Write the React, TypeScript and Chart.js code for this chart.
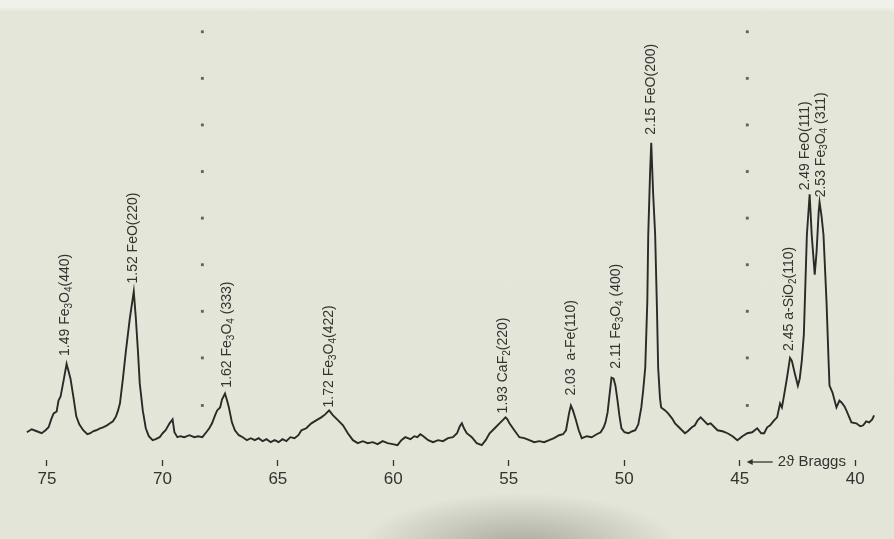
import React, { useEffect, useRef } from "react";
import { Chart, registerables } from "chart.js";

Chart.register(...registerables);

const twoTheta = [
  75.87, 75.66, 75.44, 75.23, 75.06, 74.93, 74.80, 74.71, 74.58, 74.50, 74.41, 74.28, 74.15, 74.07, 73.98, 73.85,
  73.73, 73.60, 73.43, 73.25, 73.12, 73.00, 72.87, 72.70, 72.57, 72.40, 72.27, 72.14, 72.01, 71.92, 71.84, 71.71,
  71.58, 71.41, 71.24, 71.15, 71.06, 70.98, 70.85, 70.72, 70.59, 70.42, 70.29, 70.12, 69.99, 69.86, 69.69, 69.56,
  69.48, 69.35, 69.22, 69.05, 68.83, 68.62, 68.45, 68.27, 68.10, 67.97, 67.85, 67.72, 67.63, 67.50, 67.42, 67.29,
  67.20, 67.12, 66.99, 66.86, 66.69, 66.52, 66.34, 66.17, 66.00, 65.83, 65.66, 65.49, 65.31, 65.14, 64.97, 64.80,
  64.63, 64.46, 64.28, 64.11, 63.98, 63.77, 63.55, 63.34, 63.12, 62.95, 62.78, 62.61, 62.39, 62.18, 61.97, 61.75,
  61.54, 61.32, 61.11, 60.89, 60.68, 60.46, 60.25, 60.03, 59.82, 59.65, 59.48, 59.26, 59.09, 58.96, 58.83, 58.70,
  58.49, 58.28, 58.06, 57.85, 57.63, 57.42, 57.24, 57.12, 57.03, 56.94, 56.82, 56.60, 56.39, 56.17, 56.00, 55.83,
  55.61, 55.40, 55.27, 55.14, 55.06, 54.97, 54.76, 54.54, 54.33, 54.11, 53.90, 53.68, 53.47, 53.25, 53.04, 52.82,
  52.65, 52.52, 52.39, 52.31, 52.22, 52.09, 51.97, 51.84, 51.62, 51.41, 51.19, 51.02, 50.89, 50.81, 50.72, 50.64,
  50.55, 50.46, 50.38, 50.29, 50.21, 50.12, 49.99, 49.82, 49.65, 49.52, 49.39, 49.26, 49.18, 49.09, 49.00, 48.96,
  48.88, 48.83, 48.75, 48.66, 48.58, 48.53, 48.45, 48.40, 48.23, 48.10, 47.93, 47.80, 47.63, 47.50, 47.37, 47.25,
  47.07, 46.94, 46.82, 46.69, 46.56, 46.39, 46.26, 46.09, 45.96, 45.74, 45.53, 45.31, 45.10, 44.88, 44.67, 44.46,
  44.24, 44.07, 43.94, 43.81, 43.68, 43.51, 43.38, 43.25, 43.17, 43.08, 42.95, 42.82, 42.74, 42.61, 42.48, 42.40,
  42.31, 42.22, 42.09, 41.97, 41.88, 41.75, 41.67, 41.58, 41.54, 41.45, 41.37, 41.24, 41.15, 41.11, 40.98, 40.81,
  40.68, 40.59, 40.46, 40.38, 40.16, 39.95, 39.78, 39.65, 39.52, 39.39, 39.26, 39.18,
];

// recorded intensity (arbitrary units) at each 2θ
const intensity = [
  20, 23, 21, 19, 22, 25, 34, 39, 41, 52, 56, 72, 89, 82, 74, 55,
  36, 28, 22, 18, 19, 21, 22, 24, 25, 27, 29, 31, 36, 42, 49, 74,
  102, 135, 162, 135, 102, 69, 42, 24, 16, 12, 13, 15, 19, 22, 29, 33,
  20, 15, 16, 15, 17, 15, 16, 15, 20, 24, 29, 37, 42, 45, 53, 59,
  52, 45, 30, 22, 17, 15, 12, 14, 12, 14, 11, 13, 10, 12, 10, 13,
  11, 15, 14, 17, 22, 24, 29, 32, 35, 38, 42, 37, 32, 27, 19, 12,
  9, 11, 9, 10, 8, 11, 9, 8, 7, 12, 15, 13, 16, 15, 18, 16,
  12, 10, 12, 11, 14, 15, 19, 26, 29, 24, 19, 15, 9, 7, 12, 19,
  24, 29, 32, 35, 33, 29, 22, 15, 14, 12, 10, 11, 10, 12, 14, 17,
  18, 22, 39, 47, 42, 32, 22, 14, 16, 15, 18, 20, 25, 30, 40, 57,
  75, 74, 67, 52, 37, 24, 20, 19, 21, 22, 28, 45, 62, 85, 152, 219,
  282, 312, 262, 219, 142, 85, 54, 45, 42, 39, 34, 29, 25, 22, 19, 21,
  25, 27, 32, 35, 32, 28, 29, 25, 22, 21, 19, 16, 12, 16, 19, 20,
  24, 19, 19, 25, 27, 32, 35, 49, 45, 57, 75, 95, 92, 79, 67, 74,
  92, 119, 219, 260, 219, 179, 202, 242, 252, 237, 219, 152, 92, 67, 60, 45,
  52, 50, 46, 42, 30, 29, 26, 27, 31, 30, 33, 37,
];

const tickValues = [75, 70, 65, 60, 55, 50, 45, 40];

// peak annotations: d-spacing + phase (hkl), placed at the peak's 2θ above the given intensity
const peakLabels = [
  "1.49 Fe₃O₄(440)",
  "1.52 FeO(220)",
  "1.62 Fe₃O₄ (333)",
  "1.72 Fe₃O₄(422)",
  "1.93 CaF₂(220)",
  "2.03  a-Fe(110)",
  "2.11 Fe₃O₄ (400)",
  "2.15 FeO(200)",
  "2.45 a-SiO₂(110)",
  "2.49 FeO(111)",
  "2.53 Fe₃O₄ (311)",
];
const peakTheta = [74.15, 71.24, 67.16, 62.74, 55.18, 52.27, 50.29, 48.79, 42.82, 42.14, 41.45];
const labelBase = [97, 170, 65, 45, 39, 57, 84, 320, 102, 264, 257];

// recorder marker dots (two dotted columns)
const markerTheta = [68.27, 44.67];
const markerLevels = [424, 377, 330, 283, 236, 189, 142, 95, 47];

const X_MIN = 38.49;
const X_MAX = 76.86;
const Y_MIN = -8;
const Y_MAX = 452;

const FONT_FAMILY = "'Liberation Sans', Arial, sans-serif";
const SUB_MAP: Record<string, string> = { "₀": "0", "₁": "1", "₂": "2", "₃": "3", "₄": "4", "₅": "5", "₆": "6", "₇": "7", "₈": "8", "₉": "9" };

function drawRich(ctx: CanvasRenderingContext2D, text: string) {
  const parts = text.split(/([₀-₉]+)/).filter((p) => p.length > 0);
  let x = 0;
  parts.forEach((p) => {
    const isSub = /^[₀-₉]+$/.test(p);
    if (isSub) {
      const s = p.split("").map((c) => SUB_MAP[c]).join("");
      ctx.font = `10px ${FONT_FAMILY}`;
      ctx.fillText(s, x, 4);
      x += ctx.measureText(s).width;
    } else {
      ctx.font = `14px ${FONT_FAMILY}`;
      ctx.fillText(p, x, 0);
      x += ctx.measureText(p).width;
    }
  });
}

const annotations = {
  id: "annotations",
  afterDatasetsDraw(chart: any) {
    const { ctx, scales } = chart;
    const xs = scales.x;
    const ys = scales.y;
    ctx.save();
    ctx.fillStyle = "#333331";
    ctx.textAlign = "left";
    ctx.textBaseline = "middle";
    peakLabels.forEach((label, i) => {
      const px = xs.getPixelForValue(peakTheta[i]);
      const py = ys.getPixelForValue(labelBase[i]);
      ctx.save();
      ctx.translate(px - 1, py);
      ctx.rotate(-Math.PI / 2);
      drawRich(ctx, label);
      ctx.restore();
    });

    // "← 2ϑ Braggs" axis caption between the 45 and 40 ticks
    const x45 = xs.getPixelForValue(45);
    const yCap = chart.chartArea.bottom + 2;
    ctx.strokeStyle = "#333331";
    ctx.lineWidth = 1.3;
    ctx.beginPath();
    ctx.moveTo(x45 + 10, yCap);
    ctx.lineTo(x45 + 33, yCap);
    ctx.stroke();
    ctx.beginPath();
    ctx.moveTo(x45 + 7, yCap);
    ctx.lineTo(x45 + 13, yCap - 3);
    ctx.lineTo(x45 + 13, yCap + 3);
    ctx.closePath();
    ctx.fill();
    ctx.font = `15px ${FONT_FAMILY}`;
    ctx.textBaseline = "middle";
    ctx.fillText("2ϑ Braggs", x45 + 38, yCap);
    ctx.restore();
  },
};

export default function App() {
  const canvasRef = useRef<HTMLCanvasElement | null>(null);

  useEffect(() => {
    if (!canvasRef.current) return;
    const trace = twoTheta.map((t, i) => ({ x: t, y: intensity[i] }));
    const markers: { x: number; y: number }[] = [];
    markerTheta.forEach((t) => markerLevels.forEach((l) => markers.push({ x: t, y: l })));

    const chart = new Chart(canvasRef.current, {
      type: "line",
      data: {
        datasets: [
          {
            data: trace,
            borderColor: "#2a2a28",
            borderWidth: 1.9,
            pointRadius: 0,
            tension: 0,
            fill: false,
          },
          {
            type: "scatter",
            data: markers,
            showLine: false,
            pointStyle: "rect",
            pointRadius: 2,
            backgroundColor: "rgba(65,65,60,0.8)",
            borderWidth: 0,
          } as any,
        ],
      },
      options: {
        animation: false,
        responsive: false,
        maintainAspectRatio: false,
        layout: { padding: 0 },
        plugins: { legend: { display: false }, tooltip: { enabled: false } },
        scales: {
          x: {
            type: "linear",
            reverse: true,
            min: X_MIN,
            max: X_MAX,
            afterBuildTicks: (scale: any) => {
              scale.ticks = tickValues.map((v) => ({ value: v }));
            },
            afterFit: (scale: any) => {
              scale.height = 79;
            },
            grid: {
              drawOnChartArea: false,
              drawTicks: true,
              tickLength: 6,
              tickColor: "#333331",
              tickWidth: 1.3,
            },
            border: { display: false },
            ticks: {
              autoSkip: false,
              maxRotation: 0,
              padding: 3,
              color: "#333331",
              font: { size: 17, family: FONT_FAMILY },
              callback: (v: any) => String(v),
            },
          },
          y: {
            type: "linear",
            display: false,
            min: Y_MIN,
            max: Y_MAX,
          },
        },
      },
      plugins: [annotations],
    });
    return () => chart.destroy();
  }, []);

  return (
    <div
      style={{
        position: "absolute",
        left: 0,
        top: 0,
        width: 894,
        height: 539,
        background:
          "radial-gradient(ellipse 160px 55px at 520px 548px, rgba(110,110,102,0.5), rgba(110,110,102,0) 100%), linear-gradient(180deg, #f0f1ea 0px, #f0f1ea 7px, #e3e6d8 12px, #e2e5d7 100%)",
      }}
    >
      <canvas ref={canvasRef} width={894} height={539} style={{ display: "block" }} />
    </div>
  );
}
